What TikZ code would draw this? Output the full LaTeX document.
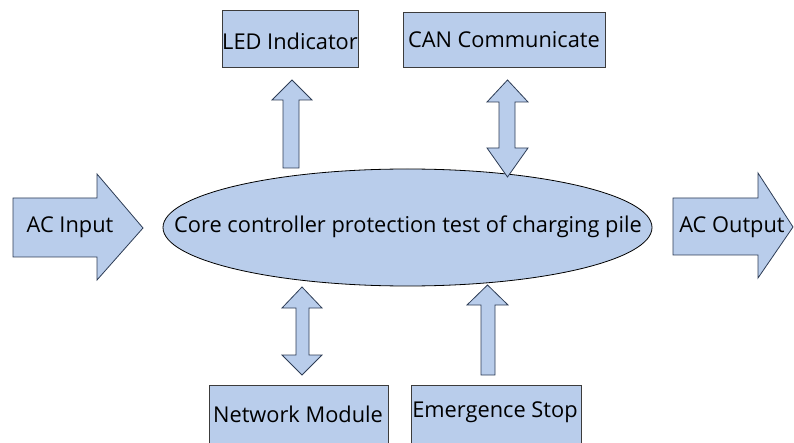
\documentclass[tikz,border=0pt]{standalone}
\usepackage{fontspec}
\setmainfont{Open Sans}
\usetikzlibrary{shapes.geometric}
\definecolor{fillblue}{RGB}{185,205,235}
\definecolor{arrowline}{RGB}{45,60,85}
\definecolor{boxline}{RGB}{60,60,60}
\begin{document}
\begin{tikzpicture}[x=1pt,y=-1pt,
  lbl/.style={font=\fontsize{21.8}{25}\selectfont, inner sep=0pt},
  blk/.style={draw=boxline, fill=fillblue, line width=0.8pt},
  barrow/.style={draw=arrowline, fill=fillblue, line width=0.8pt, line join=miter}]
\useasboundingbox (0,0) rectangle (794,443);
% boxes
\draw[blk] (222,10) rectangle (358,67);
\node[lbl] (led) at (290,41) {LED Indicator};
\draw[blk] (403,12) rectangle (605,67);
\node[lbl] (can) at (504,40) {CAN Communicate};
\draw[blk] (209,385) rectangle (388,446);
\node[lbl] (net) at (298,414) {Network Module};
\draw[blk] (411,385) rectangle (581,446);
\node[lbl] (emg) at (495,412) {Emergence Stop};
% ellipse
\draw[black, fill=fillblue, line width=0.8pt] (407.5,227.5) ellipse [x radius=244.5, y radius=58.5];
\node[lbl] (core) at (408,227) {Core controller protection test of charging pile};
% AC input arrow
\draw[barrow] (13,198) -- (97,198) -- (97,174) -- (143,228) -- (97,280) -- (97,257) -- (13,257) -- cycle;
\node[lbl] (acin) at (70,227) {AC Input};
% AC output arrow
\draw[barrow] (673,198) -- (758,198) -- (758,173) -- (793,227) -- (758,278) -- (758,255) -- (673,255) -- cycle;
\node[lbl] (acout) at (732,227) {AC Output};
% LED up arrow
\draw[barrow] (283,168) -- (283,100) -- (272,100) -- (292,80) -- (312,100) -- (299,100) -- (299,168) -- cycle;
% CAN double arrow
\draw[barrow] (499,102) -- (487,102) -- (507.5,80) -- (528,102) -- (515,102) -- (515,148) -- (528,148) -- (507.5,177) -- (487,148) -- (499,148) -- cycle;
% Network double arrow
\draw[barrow] (296,308) -- (282,308) -- (302,287) -- (322,308) -- (309,308) -- (309,355) -- (322,355) -- (302,375) -- (282,355) -- (296,355) -- cycle;
% Emergence up arrow
\draw[barrow] (481,375) -- (481,305) -- (467,305) -- (487.5,285) -- (508,305) -- (495,305) -- (495,375) -- cycle;
\end{tikzpicture}
\end{document}
